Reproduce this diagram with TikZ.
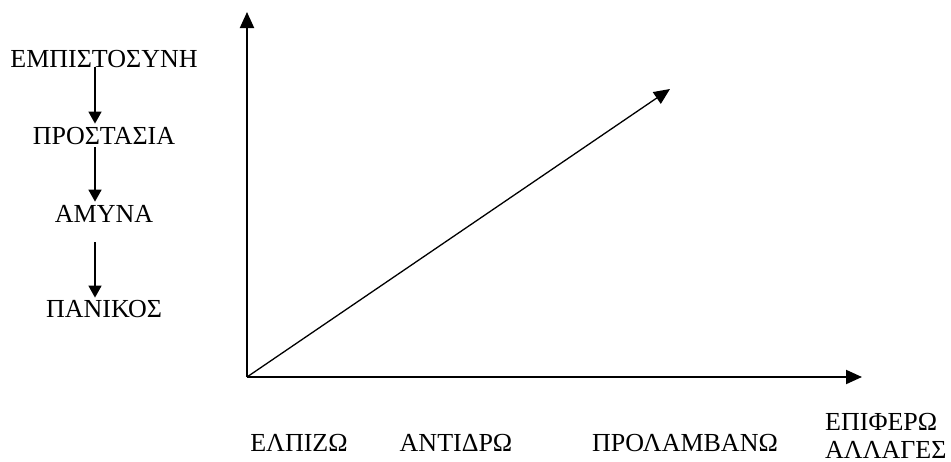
\documentclass[tikz,border=0pt]{standalone}
\usepackage{fontspec}
\setmainfont{Liberation Serif}
\usetikzlibrary{arrows.meta,positioning,calc}

\begin{document}
\begin{tikzpicture}[x=1pt, y=-1pt,
    lbl/.style={inner sep=0pt, font=\fontsize{26}{28}\selectfont},
    axis/.style={line width=2pt, -{Triangle[length=16pt, width=14pt]}},
    flow/.style={line width=1.6pt, -{Triangle[length=12pt, width=13pt]}}
]
    \useasboundingbox (0,0) rectangle (951,461);

    % Left column: stages
    \node[lbl, anchor=base] (trust) at (104,67) {ΕΜΠΙΣΤΟΣΥΝΗ};
    \node[lbl, anchor=base] (protect) at (104,144) {ΠΡΟΣΤΑΣΙΑ};
    \node[lbl, anchor=base] (defend) at (104,222) {ΑΜΥΝΑ};
    \node[lbl, anchor=base] (panic) at (104,317) {ΠΑΝΙΚΟΣ};
    \coordinate (col) at (95,0);
    \draw[flow, shorten >=3pt] (trust.south -| col) -- (protect.north -| col);
    \draw[flow, shorten >=3pt] ([yshift=-3pt]protect.south -| col) -- (defend.north -| col);
    \draw[flow, shorten <=20pt, shorten >=2pt] (defend.south -| col) -- (panic.north -| col);

    % Axes
    \coordinate (O) at (247,377);
    \coordinate (ytop) at (247,12);
    \coordinate (xend) at (862,377);
    \coordinate (diag) at (670,89);
    \draw[axis] (O) -- (ytop);
    \draw[axis] (O) -- (xend);
    \draw[line width=1.3pt, -{Triangle[length=16pt, width=14pt]}] (O) -- (diag);

    % Bottom labels
    \node[lbl, anchor=base] (hope) at (299,451) {ΕΛΠΙΖΩ};
    \node[lbl, anchor=base] (react) at (456,451) {ΑΝΤΙΔΡΩ};
    \node[lbl, anchor=base] (foresee) at (685,451) {ΠΡΟΛΑΜΒΑΝΩ};
    \node[lbl, anchor=base west] (bring) at (825,430) {ΕΠΙΦΕΡΩ};
    \node[lbl, anchor=base west] (change) at ([yshift=-28pt]bring.base west) {ΑΛΛΑΓΕΣ};
\end{tikzpicture}
\end{document}
